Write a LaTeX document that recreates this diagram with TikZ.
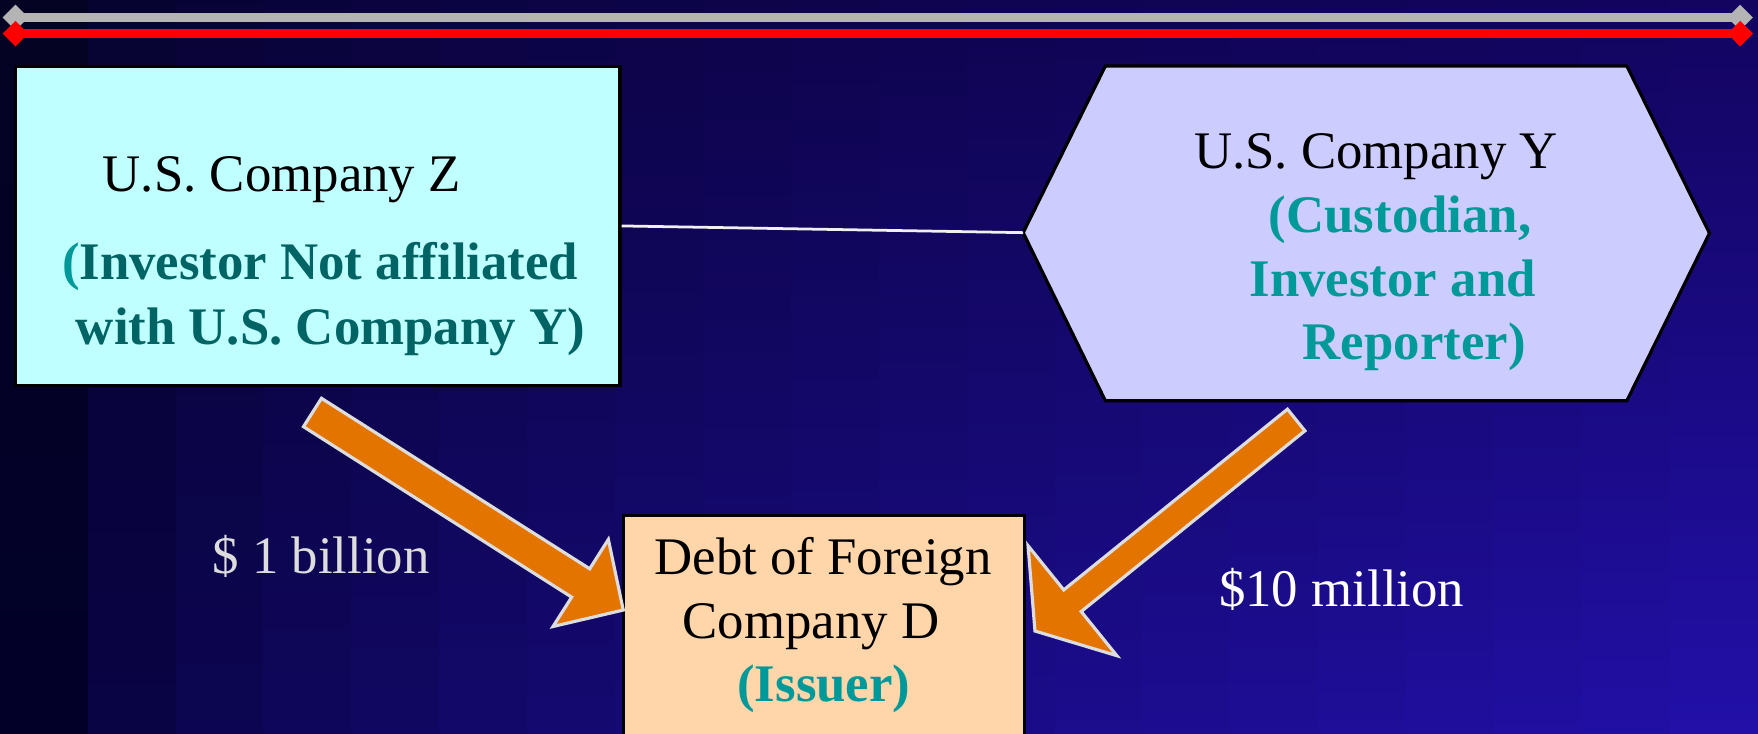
\documentclass[tikz,border=0pt]{standalone}
\usepackage{fontspec}
\setmainfont{Liberation Serif}
\usetikzlibrary{calc,arrows.meta}

\definecolor{bgUL}{RGB}{4,3,36}
\definecolor{bgUR}{RGB}{18,4,95}
\definecolor{bgLL}{RGB}{2,0,40}
\definecolor{bgLR}{RGB}{34,16,168}
\definecolor{zfill}{RGB}{192,255,255}
\definecolor{hexfill}{RGB}{204,204,255}
\definecolor{dfill}{RGB}{255,213,170}
\definecolor{tealC}{RGB}{0,153,153}
\definecolor{tealD}{RGB}{0,100,100}
\definecolor{arrowO}{RGB}{228,116,0}
\definecolor{arrowE}{RGB}{221,221,221}
\definecolor{lineG}{RGB}{180,180,180}

% mui ten khoi: duoi, dinh, nua than, nua dau, dai dau
\newcommand{\blockarrow}[5]{%
  \coordinate (#1b) at ($(#2)!#5!(#1)$);
  \filldraw[bigarrow] ($(#1)!#3!90:(#2)$) -- ($(#1b)!#3!90:(#2)$)
    -- ($(#1b)!#4!90:(#2)$) -- (#2) -- ($(#1b)!#4!-90:(#2)$)
    -- ($(#1b)!#3!-90:(#2)$) -- ($(#1)!#3!-90:(#2)$) -- cycle;}

\begin{document}
\begin{tikzpicture}[
    txt/.style={anchor=base west, inner sep=0pt, font=\fontsize{13.4}{16}\selectfont},
    role/.style={txt, font=\fontsize{13.4}{16}\selectfont\bfseries, text=tealC},
    outline/.style={draw=black, line width=0.8pt},
    box/.style={outline, inner sep=0pt},
    link/.style={draw=white!88!gray, line width=0.7pt},
    bigarrow/.style={fill=arrowO, draw=arrowE, line width=0.8pt},
    topline/.style={line width=2.3pt,
        {Diamond[length=6.5pt,width=6.5pt]}-{Diamond[length=6.5pt,width=6.5pt]}}
  ]
  \useasboundingbox (0,0) rectangle (15.68,6.54);
  \clip (0,0) rectangle (15.68,6.54);

  % Nen: cac dai doc
  \foreach \i in {0,...,19}{
    \pgfmathtruncatemacro{\p}{100*sqrt(\i/19)}
    \shade[top color=bgUR!\p!bgUL, bottom color=bgLR!\p!bgLL]
      (\i*0.784,0) rectangle ({(\i+1)*0.784+0.01},6.54);
  }

  % Hai vach tren cung
  \coordinate (gL) at (0.024,6.384);
  \coordinate (gR) at (15.635,6.384);
  \coordinate (rL) at (0.024,6.24);
  \coordinate (rR) at (15.635,6.24);
  \draw[topline, draw=lineG, fill=lineG] (gL) -- (gR);
  \draw[topline, draw=red, fill=red] (rL) -- (rR);

  % Cong ty Z
  \node[box, fill=zfill, minimum width=5.39cm, minimum height=2.85cm]
    (boxZ) at (2.835,4.525) {};

  % Cong ty Y (luc giac)
  \draw[outline, fill=hexfill] (9.126,4.465) coordinate (hexL)
    -- (9.859,5.951) -- (14.51,5.951) -- (15.247,4.46)
    -- (14.51,2.966) -- (9.859,2.966) -- cycle;
  \draw[link] (boxZ.east) -- (hexL);

  % Cong ty D
  \node[box, fill=dfill, anchor=north west, minimum width=3.575cm,
    minimum height=2.3cm] (boxD) at (5.545,1.956) {};

  % Mui ten
  \coordinate (zTail) at (2.787,2.861);
  \coordinate (zTip) at (5.559,1.099);
  \blockarrow{zTail}{zTip}{0.15cm}{0.46cm}{0.45cm}
  \coordinate (yTail) at (11.561,2.794);
  \coordinate (yTip) at (9.231,0.912);
  \blockarrow{yTail}{yTip}{0.124cm}{0.63cm}{0.43cm}

  % Chu
  \node[txt] (zName) at (0.91,4.83) {U.S. Company Z};
  \node[role, text=tealD] (zRoleA) at (0.546,4.043)
    {{\color{tealC}(}Investor Not affiliated};
  \node[role, text=tealD] (zRoleB) at (0.67,3.463) {with U.S. Company Y)};

  \node[txt] (yName) at (10.643,5.039) {U.S. Company Y};
  \node[role] (yRoleA) at (11.31,4.465) {(Custodian,};
  \node[role] (yRoleB) at (11.139,3.90) {Investor and};
  \node[role] (yRoleC) at (11.613,3.33) {Reporter)};

  \node[txt] (dNameA) at (5.83,1.42) {Debt of Foreign};
  \node[txt] (dNameB) at (6.08,0.847) {Company D};
  \node[role] (dRole) at (6.57,0.282) {(Issuer)};

  \node[txt, text=arrowE] (zAmt) at (1.888,1.426) {\$ 1 billion};
  \node[txt, text=white] (yAmt) at (10.867,1.13) {\$10 million};
\end{tikzpicture}
\end{document}
